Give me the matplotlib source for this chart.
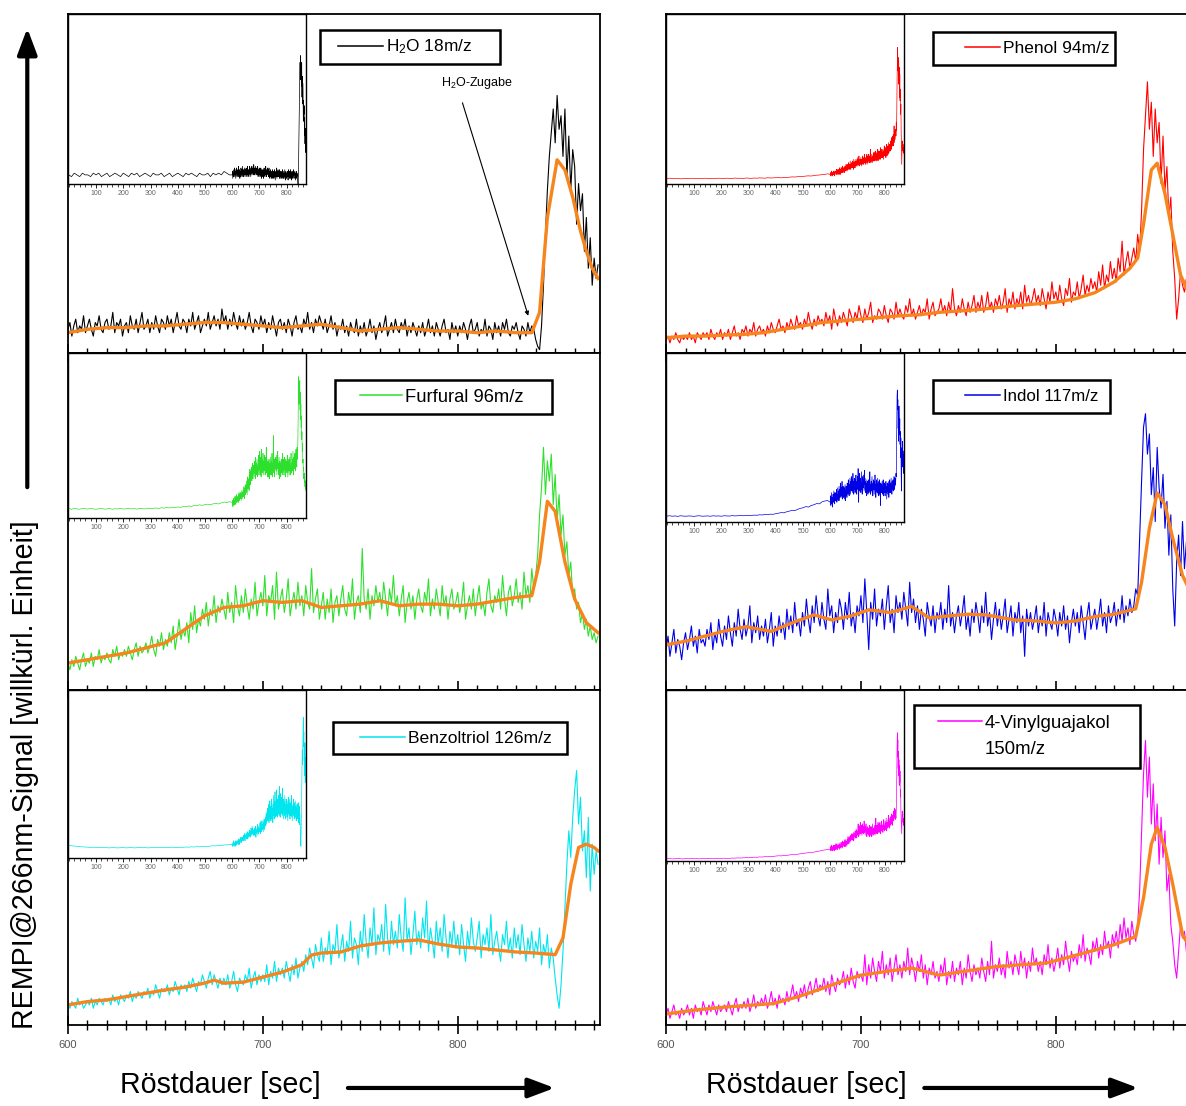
import numpy as np
import matplotlib
matplotlib.use('Agg')
import matplotlib.pyplot as plt
from matplotlib.lines import Line2D
from matplotlib.patches import FancyArrowPatch, Rectangle
from matplotlib.ticker import MultipleLocator

plt.rcParams['font.family'] = 'Liberation Sans'
plt.rcParams['mathtext.fontset'] = 'custom'
plt.rcParams['mathtext.rm'] = 'Liberation Sans'
plt.rcParams['mathtext.default'] = 'regular'

# Zeitachsen (sec)
t_main = np.arange(600, 873, 1)
t_early = np.arange(0, 600, 10)

# ---------------- H2O 18 m/z ----------------
h2o_raw = [7, 9, 5, 8, 10, 6, 8, 7, 11, 6,
           8, 10, 7, 5, 9, 8, 11, 7, 6, 9,
           10, 7, 8, 12, 6, 9, 8, 10, 5, 8,
           9, 6, 11, 8, 7, 10, 6, 9, 12, 7,
           8, 10, 6, 9, 7, 11, 8, 6, 10, 9,
           7, 11, 8, 10, 6, 9, 12, 8, 7, 10,
           9, 6, 10, 8, 12, 7, 9, 11, 6, 8,
           10, 8, 12, 7, 9, 11, 8, 10, 7, 13,
           9, 11, 7, 10, 8, 12, 9, 7, 11, 8,
           10, 7, 9, 12, 8, 6, 10, 9, 7, 11,
           8, 10, 6, 9, 7, 11, 8, 5, 9, 10,
           7, 9, 6, 10, 8, 5, 9, 11, 7, 8,
           6, 10, 8, 12, 7, 9, 6, 10, 8, 11,
           9, 7, 10, 6, 8, 11, 7, 9, 5, 8,
           7, 10, 6, 8, 5, 9, 7, 6, 10, 5,
           8, 6, 9, 5, 7, 10, 6, 8, 4, 7,
           9, 6, 8, 11, 5, 7, 9, 6, 10, 7,
           6, 9, 7, 10, 5, 8, 6, 9, 7, 5,
           8, 6, 9, 5, 7, 10, 6, 8, 5, 9,
           7, 5, 8, 10, 6, 7, 4, 9, 6, 8,
           5, 8, 6, 9, 7, 4, 8, 10, 6, 7,
           9, 5, 7, 6, 10, 5, 8, 7, 4, 9,
           6, 8, 5, 9, 7, 10, 6, 5, 8, 7,
           9, 6, 4, 8, 7, 5, 9, 6, 8, 7,
           4, 2, 1, 8, 20, 35, 48, 58, 65, 72,
           62, 76, 66, 70, 58, 72, 52, 64, 48, 60,
           55, 38, 50, 42, 47, 30, 40, 25, 34, 20,
           28, 22, 26]
h2o_smooth_t = [600, 610, 620, 630, 640, 650, 660, 670, 680, 690, 700, 710, 720, 730,
                740, 750, 760, 770, 780, 790, 800, 810, 820, 830, 838, 842, 846, 851,
                855, 859, 863, 866, 869, 872]
h2o_smooth = [6, 7, 7.5, 7.5, 8, 8, 8.5, 9, 9, 8.5, 8, 7.5, 8, 8.5, 7.5, 6.5, 7, 7.5,
              7, 6.5, 6.5, 6, 6.5, 6, 6, 12, 40, 57, 54, 46, 36, 30, 25, 22]
h2o_early = [7, 6, 8, 7, 6, 8, 7, 7, 6, 8, 7, 8, 6, 7, 8, 6, 7, 8, 7, 6,
             8, 7, 6, 8, 7, 8, 6, 7, 8, 7, 6, 8, 7, 7, 8, 6, 7, 8, 6, 7,
             8, 7, 6, 8, 7, 8, 7, 6, 8, 7, 7, 8, 6, 8, 7, 8, 7, 9, 8, 7]

# ---------------- Furfural 96 m/z ----------------
furf_raw = [8, 6, 9, 7, 10, 8, 6, 9, 11, 7,
            9, 8, 11, 7, 10, 9, 12, 8, 10, 9,
            11, 9, 8, 12, 10, 13, 9, 11, 10, 12,
            10, 13, 11, 9, 12, 14, 10, 13, 11, 12,
            14, 11, 13, 16, 12, 10, 15, 13, 17, 12,
            15, 13, 17, 14, 19, 12, 16, 21, 15, 18,
            16, 20, 14, 23, 18, 25, 17, 21, 19, 24,
            21, 26, 19, 24, 22, 28, 20, 25, 23, 27,
            24, 21, 29, 23, 26, 20, 31, 25, 22, 28,
            23, 30, 25, 21, 27, 24, 32, 22, 26, 29,
            25, 34, 22, 28, 26, 31, 21, 35, 24, 27,
            30, 23, 27, 33, 22, 26, 29, 24, 32, 25,
            28, 22, 31, 26, 24, 36, 23, 27, 30, 21,
            25, 29, 21, 27, 23, 30, 20, 26, 28, 22,
            27, 31, 24, 22, 29, 25, 33, 21, 26, 28,
            23, 42, 27, 24, 30, 21, 28, 25, 31, 26,
            29, 24, 32, 27, 22, 30, 26, 34, 25, 28,
            22, 27, 31, 20, 26, 29, 24, 28, 21, 27,
            30, 25, 23, 29, 26, 33, 22, 27, 24, 30,
            26, 22, 31, 25, 28, 21, 27, 30, 24, 26,
            29, 23, 26, 32, 21, 25, 28, 24, 30, 22,
            27, 31, 24, 26, 22, 29, 33, 25, 23, 28,
            26, 30, 24, 34, 27, 22, 29, 31, 25, 28,
            33, 26, 29, 24, 35, 28, 31, 26, 36, 30,
            34, 40, 52, 60, 72, 58, 68, 62, 70, 55,
            64, 50, 58, 46, 52, 40, 44, 34, 38, 28,
            30, 24, 26, 20, 23, 18, 21, 16, 19, 15,
            17, 14, 16]
furf_smooth_t = [600, 610, 620, 630, 640, 650, 660, 670, 680, 690, 700, 710, 720, 730,
                 740, 750, 760, 770, 780, 790, 800, 810, 820, 830, 838, 842, 846, 850,
                 855, 860, 866, 872]
furf_smooth = [8, 9, 10, 11, 12.5, 14, 18, 22, 24.5, 25, 26.5, 26, 26.5, 24.5, 25, 25.5,
               26.5, 25, 25.5, 25.5, 25, 25.5, 26.5, 27.5, 28, 38, 56, 53, 38, 27, 20, 17]
furf_early = [5, 4.5, 5, 4.7, 4.5, 5, 4.8, 4.6, 5, 4.7, 4.5, 4.8, 5, 4.6, 4.7, 4.9, 4.5, 4.8,
              4.7, 5, 4.6, 4.8, 5, 4.7, 4.9, 4.6, 5, 4.8, 4.7, 5.1,
              4.8, 5, 5.2, 4.9, 5.3, 5.1, 5.4, 5.2, 5.6, 5.4, 5.7, 5.5, 5.9, 5.8, 6.2, 6,
              6.4, 6.3, 6.8, 6.5, 6.9, 7.1, 6.8, 7.3, 7.6, 7.2, 7.8, 8.2, 7.9, 8.4]

# ---------------- Benzoltriol 126 m/z ----------------
benz_raw = [6, 5, 7, 6, 5, 8, 6, 7, 5, 6,
            7, 6, 8, 5, 7, 6, 8, 7, 6, 8,
            7, 8, 6, 9, 7, 8, 6, 9, 8, 7,
            9, 8, 10, 7, 9, 8, 10, 9, 8, 10,
            9, 11, 8, 10, 9, 12, 10, 8, 11, 10,
            10, 12, 9, 11, 10, 13, 11, 9, 12, 11,
            12, 10, 13, 11, 14, 12, 10, 13, 12, 15,
            13, 11, 14, 16, 12, 15, 13, 11, 14, 12,
            14, 12, 15, 11, 13, 16, 12, 10, 14, 13,
            12, 15, 13, 17, 11, 14, 16, 12, 15, 13,
            15, 13, 18, 12, 16, 14, 19, 13, 17, 15,
            17, 14, 19, 16, 13, 18, 15, 20, 14, 17,
            19, 16, 21, 18, 23, 20, 17, 24, 21, 19,
            26, 19, 23, 21, 28, 18, 24, 22, 30, 20,
            23, 27, 19, 25, 22, 31, 20, 26, 24, 18,
            28, 22, 33, 25, 20, 29, 24, 35, 21, 27,
            25, 30, 22, 36, 26, 21, 31, 24, 28, 23,
            33, 26, 22, 38, 25, 29, 21, 27, 34, 24,
            28, 23, 32, 26, 37, 22, 29, 25, 20, 31,
            24, 29, 22, 33, 26, 20, 28, 24, 31, 23,
            27, 21, 30, 24, 19, 28, 23, 32, 25, 22,
            26, 31, 20, 27, 24, 29, 22, 33, 21, 25,
            28, 23, 19, 27, 24, 31, 22, 26, 20, 29,
            23, 27, 21, 30, 24, 19, 26, 22, 28, 20,
            25, 22, 29, 18, 24, 21, 27, 17, 23, 20,
            14, 9, 5, 12, 22, 35, 48, 58, 50, 62,
            70, 76, 60, 68, 52, 58, 44, 62, 40, 54,
            45, 52, 48]
benz_smooth_t = [600, 610, 620, 630, 640, 650, 660, 670, 675, 680, 690, 700, 710, 720,
                 725, 730, 740, 750, 760, 770, 780, 790, 800, 810, 820, 830, 840, 850,
                 854, 858, 862, 866, 870, 872]
benz_smooth = [6, 7, 7.5, 8.5, 9.5, 10.5, 11.3, 12.5, 13.4, 12.5, 12.8, 14.3, 15.8, 18,
               20.9, 21.5, 21.8, 23.6, 24.5, 25, 25.4, 24.2, 23.3, 23, 22.4, 21.8, 21.5,
               21, 26, 42, 53, 54, 53, 52]
benz_early = [5.5, 5.3, 5.1, 5, 4.8, 4.7, 4.6, 4.5, 4.4, 4.5, 4.3, 4.4, 4.2, 4.3, 4.2, 4.1,
              4.3, 4.2, 4.1, 4.2, 4.3, 4.1, 4.2, 4.3, 4.1, 4.2, 4.4, 4.2, 4.3, 4.1,
              4.2, 4.3, 4.2, 4.4, 4.3, 4.2, 4.4, 4.3, 4.5, 4.4, 4.3, 4.5, 4.4, 4.6, 4.5,
              4.7, 4.6, 4.8, 4.7, 4.9, 5, 4.9, 5.1, 5.3, 5.2, 5.5, 5.4, 5.7, 5.8, 5.9]

# ---------------- Phenol 94 m/z ----------------
phen_raw = [4, 5, 3, 5, 4, 6, 4, 3, 5, 4,
            5, 4, 6, 4, 5, 3, 6, 5, 4, 6,
            5, 6, 4, 7, 5, 4, 6, 5, 7, 4,
            6, 5, 7, 4, 6, 8, 5, 6, 4, 7,
            6, 8, 5, 7, 6, 9, 5, 7, 8, 6,
            7, 5, 8, 6, 9, 7, 6, 8, 10, 7,
            8, 6, 9, 7, 10, 8, 7, 11, 8, 9,
            7, 10, 8, 12, 9, 7, 10, 8, 11, 9,
            10, 8, 12, 9, 11, 7, 13, 10, 8, 11,
            9, 12, 10, 8, 13, 11, 9, 12, 10, 14,
            11, 9, 13, 10, 12, 15, 9, 11, 10, 13,
            12, 10, 14, 11, 9, 13, 12, 10, 15, 11,
            13, 11, 10, 14, 12, 16, 11, 13, 10, 12,
            14, 11, 13, 12, 16, 10, 13, 15, 11, 12,
            13, 16, 12, 14, 11, 15, 12, 19, 13, 11,
            14, 12, 16, 13, 11, 15, 12, 14, 17, 12,
            15, 13, 17, 12, 14, 18, 13, 15, 12, 16,
            14, 17, 13, 15, 19, 12, 16, 14, 18, 13,
            16, 14, 18, 13, 20, 15, 17, 14, 16, 19,
            15, 17, 14, 19, 16, 13, 18, 15, 21, 16,
            18, 15, 20, 16, 14, 19, 17, 22, 15, 18,
            17, 21, 16, 19, 23, 17, 20, 18, 22, 19,
            21, 18, 24, 20, 26, 19, 23, 21, 27, 22,
            25, 21, 28, 24, 33, 23, 27, 30, 25, 28,
            31, 27, 35, 30, 42, 60, 70, 80, 66, 74,
            58, 72, 62, 68, 50, 64, 48, 55, 40, 46,
            30, 22, 10, 16, 24, 20, 18, 22, 17, 20,
            19, 16, 18]
phen_smooth_t = [600, 610, 620, 630, 640, 650, 660, 670, 680, 690, 700, 710, 720, 730,
                 740, 750, 760, 770, 780, 790, 800, 810, 820, 830, 838, 842, 845, 849,
                 852, 856, 860, 864, 868, 872]
phen_smooth = [4.5, 5, 5, 5.3, 5.5, 6, 7, 8, 9, 9.5, 10, 10.5, 11, 11.3, 12, 12.4, 12.8,
               13.4, 14, 14.5, 15, 16, 17.8, 21, 25, 28, 38, 54, 56, 47, 35, 23, 18, 16]
phen_early = [1.5, 1.7, 1.4, 1.6, 1.5, 1.3, 1.6, 1.5, 1.4, 1.7, 1.5, 1.6, 1.4, 1.5, 1.7,
              1.5, 1.4, 1.6, 1.5, 1.7, 1.6, 1.5, 1.7, 1.6, 1.5, 1.8, 1.6, 1.7, 1.5, 1.8,
              1.7, 1.6, 1.8, 1.7, 1.9, 1.8, 1.7, 2, 1.8, 1.9, 2, 2.1, 1.9, 2.2, 2.1, 2.3,
              2.5, 2.4, 2.6, 2.8, 2.7, 3, 3.1, 3, 3.3, 3.5, 3.6, 3.9, 4, 4.3]

# ---------------- Indol 117 m/z ----------------
indol_raw = [12, 16, 10, 14, 18, 11, 15, 13, 9, 14,
             17, 12, 15, 19, 13, 16, 11, 18, 14, 15,
             13, 18, 15, 20, 12, 17, 14, 21, 16, 13,
             19, 15, 22, 17, 13, 20, 16, 24, 18, 15,
             21, 16, 19, 25, 14, 20, 17, 22, 15, 19,
             16, 21, 14, 18, 23, 13, 19, 16, 22, 17,
             20, 15, 24, 18, 22, 17, 26, 19, 21, 16,
             23, 19, 27, 21, 17, 25, 20, 28, 22, 19,
             26, 21, 18, 30, 22, 25, 17, 23, 20, 27,
             24, 18, 26, 21, 29, 19, 23, 17, 25, 22,
             28, 20, 33, 23, 12, 26, 21, 30, 19, 24,
             22, 27, 18, 25, 31, 20, 24, 17, 28, 23,
             26, 21, 29, 24, 19, 32, 23, 27, 20, 25,
             18, 24, 21, 16, 26, 22, 19, 25, 17, 23,
             21, 26, 18, 24, 20, 31, 19, 23, 17, 22,
             25, 19, 23, 28, 18, 22, 16, 24, 20, 26,
             22, 17, 25, 20, 29, 19, 23, 15, 21, 26,
             19, 24, 18, 22, 27, 17, 21, 25, 16, 23,
             20, 26, 17, 22, 10, 24, 19, 23, 18, 21,
             25, 17, 22, 19, 26, 16, 23, 20, 18, 24,
             21, 16, 23, 19, 25, 18, 22, 14, 20, 24,
             19, 23, 17, 25, 20, 15, 22, 26, 18, 21,
             24, 18, 22, 27, 19, 23, 17, 25, 20, 22,
             26, 19, 24, 21, 28, 20, 25, 22, 27, 23,
             25, 30, 28, 45, 62, 78, 82, 70, 76, 58,
             66, 50, 72, 60, 54, 64, 48, 56, 40, 52,
             30, 19, 38, 46, 34, 50, 36, 44, 30, 40,
             35, 42, 38]
indol_smooth_t = [600, 610, 620, 630, 641, 654, 665, 676, 685, 695, 704, 715, 726, 735,
                  745, 755, 764, 779, 790, 800, 810, 821, 830, 841, 844, 848, 852, 856,
                  860, 865, 870]
indol_smooth = [13.4, 14.5, 16, 17.5, 18.8, 17.4, 20, 22.3, 20.8, 22, 23.8, 23, 24.8, 21.4,
                22, 22.5, 22.3, 20.8, 20.5, 19.9, 20.5, 21.9, 22.5, 24.1, 32, 48, 58.5, 55,
                45, 34, 28]
indol_early = [3.4, 3.6, 3.3, 3.5, 3.2, 3.6, 3.4, 3.3, 3.5, 3.4, 3.2, 3.5, 3.6, 3.3, 3.4,
               3.5, 3.3, 3.6, 3.4, 3.5, 3.3, 3.6, 3.5, 3.4, 3.7, 3.5, 3.6, 3.8, 3.6, 3.7,
               3.9, 3.8, 4, 3.9, 4.2, 4.1, 4.4, 4.3, 4.6, 4.5, 4.9, 5.2, 5.6, 5.4, 6.1, 6.5,
               7, 6.8, 7.6, 8.2, 8.6, 9.3, 9, 10, 10.5, 11.2, 11, 12.3, 12.8, 13.1]

# ---------------- 4-Vinylguajakol 150 m/z ----------------
vinyl_raw = [3, 5, 2, 4, 6, 3, 4, 2, 5, 3,
             4, 6, 3, 5, 2, 6, 4, 5, 3, 7,
             5, 3, 6, 4, 7, 5, 3, 6, 4, 5,
             6, 4, 7, 5, 3, 6, 8, 4, 6, 5,
             7, 5, 8, 4, 6, 9, 5, 7, 6, 8,
             6, 9, 5, 7, 10, 6, 8, 5, 9, 7,
             8, 6, 10, 7, 9, 12, 8, 10, 7, 11,
             9, 12, 8, 11, 13, 9, 11, 14, 10, 12,
             11, 14, 10, 13, 9, 15, 12, 10, 14, 12,
             13, 16, 11, 15, 12, 17, 13, 11, 16, 14,
             15, 13, 21, 12, 18, 14, 20, 16, 13, 19,
             16, 22, 14, 18, 15, 20, 13, 17, 21, 15,
             18, 14, 19, 16, 23, 15, 20, 17, 13, 19,
             16, 21, 14, 18, 12, 17, 15, 19, 14, 16,
             13, 18, 15, 20, 12, 16, 14, 19, 13, 17,
             15, 19, 12, 17, 14, 21, 16, 13, 18, 15,
             17, 14, 20, 16, 13, 19, 15, 25, 14, 18,
             16, 20, 15, 18, 14, 22, 17, 19, 15, 21,
             18, 15, 22, 17, 20, 14, 19, 16, 23, 18,
             20, 16, 19, 15, 21, 18, 24, 17, 20, 16,
             19, 23, 17, 21, 18, 25, 20, 16, 22, 19,
             21, 18, 24, 20, 27, 19, 23, 21, 18, 25,
             22, 26, 20, 24, 21, 28, 23, 25, 20, 27,
             24, 28, 23, 30, 25, 32, 26, 29, 24, 31,
             27, 25, 30, 40, 58, 75, 85, 68, 80, 60,
             72, 55, 66, 48, 62, 50, 58, 40, 45, 30,
             25, 18, 14, 22, 30, 26, 28, 22, 25, 20,
             24, 21, 23]
vinyl_smooth_t = [600, 615, 631, 645, 655, 668, 680, 690, 700, 713, 726, 733, 740, 755,
                  769, 782, 795, 805, 817, 830, 841, 845, 849, 852, 856, 860, 865, 870]
vinyl_smooth = [3.3, 4.5, 5.4, 6, 6.4, 8.5, 10.9, 13, 14.9, 16, 17, 16, 14.9, 16.2, 17.4,
                18, 18.5, 20, 21.9, 24, 26.4, 38, 54, 59, 53, 42, 27, 22]
vinyl_early = [-3.5, -3.4, -3.6, -3.5, -3.3, -3.5, -3.6, -3.4, -3.5, -3.3, -3.5, -3.4,
               -3.6, -3.3, -3.5, -3.4, -3.3, -3.5, -3.2, -3.4, -3.3, -3.1, -3.3, -3.2,
               -3, -3.1, -2.9, -3, -2.8, -2.7, -2.8, -2.6, -2.4, -2.5, -2.2, -2.3, -2,
               -2.1, -1.8, -1.9, -1.6, -1.4, -1.5, -1.1, -1.2, -0.8, -0.6, -0.7, -0.3, 0,
               0.2, 0.5, 0.8, 0.7, 1.2, 1.6, 1.9, 2.3, 2.7, 3]

ORANGE = '#f7851e'
W, H = 1186, 1106

fig = plt.figure(figsize=(W / 100, H / 100), dpi=100)

col_left = [0.0573, 0.5616]
col_w = 0.4486
rows = [(0.6808, 0.3065), (0.3761, 0.3047), (0.0732, 0.3029)]

# Legendenrahmen in Pixeln: (links, oben, rechts, unten), Linie (von, bis), Schriftgroesse
panels = [
    (0, 0, h2o_raw, h2o_smooth_t, h2o_smooth, h2o_early, 'black',
     ['H$_2$O 18m/z'], (2, 100), 0.50, (320, 30, 500, 64), (338, 383), 12.4),
    (0, 1, furf_raw, furf_smooth_t, furf_smooth, furf_early, '#2ee02e',
     ['Furfural 96m/z'], (0, 84), 0.51, (335, 380, 552, 414), (360, 402), 13.2),
    (0, 2, benz_raw, benz_smooth_t, benz_smooth, benz_early, '#00e5ee',
     ['Benzoltriol 126m/z'], (-1.2, 91), 0.50, (333, 722, 567, 754), (360, 405), 12.6),
    (1, 0, phen_raw, phen_smooth_t, phen_smooth, phen_early, '#ff0000',
     ['Phenol 94m/z'], (-1.5, 100), 0.50, (933, 32, 1115, 65), (965, 1000), 12.5),
    (1, 1, indol_raw, indol_smooth_t, indol_smooth, indol_early, '#0000e6',
     ['Indol 117m/z'], (0, 105), 0.50, (933, 380, 1110, 413), (965, 1000), 12.2),
    (1, 2, vinyl_raw, vinyl_smooth_t, vinyl_smooth, vinyl_early, '#ff00ff',
     ['4-Vinylguajakol', '150m/z'], (-5, 115), 0.49, (914, 705, 1140, 768), (938, 982), 13.4),
]

axes = {}
for col, row, raw, st, sy, early, color, labels, iylim, ibot, box, hline, fs in panels:
    bottom, height = rows[row]
    ax = fig.add_axes([col_left[col], bottom, col_w, height])
    axes[(col, row)] = ax
    ax.plot(t_main, raw, color=color, lw=0.8)
    ax.plot(st, sy, color=ORANGE, lw=2.4)
    ax.set_xlim(600, 873)
    ax.set_ylim(0, 100)
    ax.set_yticks([])
    ax.xaxis.set_major_locator(MultipleLocator(100))
    ax.xaxis.set_minor_locator(MultipleLocator(10))
    ax.tick_params(axis='x', which='major', direction='inout', length=13, width=1.2,
                   labelsize=8, labelcolor='#555555', pad=4)
    ax.tick_params(axis='x', which='minor', direction='inout', length=7, width=1)
    if row != 2:
        ax.tick_params(axis='x', labelbottom=False)
    for s in ax.spines.values():
        s.set_linewidth(1.3)

    # kleines Gesamtbild
    ins = ax.inset_axes([0, ibot, 0.447, 1 - ibot])
    ins.plot(np.concatenate([t_early, t_main]), np.concatenate([early, raw]),
             color=color, lw=0.5)
    ins.set_xlim(-3, 870)
    ins.set_ylim(*iylim)
    ins.set_yticks([])
    ins.set_xticks(range(100, 900, 100))
    ins.xaxis.set_minor_locator(MultipleLocator(20))
    ins.tick_params(axis='x', which='major', direction='out', length=3, width=0.6,
                    labelsize=5, labelcolor='#666666', pad=1.5)
    ins.tick_params(axis='x', which='minor', direction='out', length=2, width=0.5)
    for s in ins.spines.values():
        s.set_linewidth(1.0)

    # Legende: Rahmen von Hand, Eintraege ohne Rahmen
    x0, y0, x1, y1 = box
    fig.add_artist(Rectangle((x0 / W, 1 - y1 / H), (x1 - x0) / W, (y1 - y0) / H,
                             transform=fig.transFigure, fill=True, facecolor='white',
                             edgecolor='black', lw=1.8, zorder=5))
    handles = [Line2D([], [], color=color, lw=1.1)]
    if len(labels) > 1:
        handles.append(Line2D([], [], color='none'))
    fs_px = fs * 100 / 72
    leg = fig.legend(handles, labels, loc='center left',
                     bbox_to_anchor=(hline[0] / W, 1 - (y0 + y1) / 2 / H),
                     bbox_transform=fig.transFigure, frameon=False, fontsize=fs,
                     handlelength=(hline[1] - hline[0]) / fs_px,
                     handletextpad=3 / fs_px, borderaxespad=0,
                     borderpad=0, labelspacing=0.5)
    leg.set_zorder(6)

# H2O-Zugabe Markierung
ax0 = axes[(0, 0)]
ax0.text(810, 79.6, 'H$_2$O-Zugabe', ha='center', va='center', fontsize=9)
ax0.annotate('', xy=(836.6, 10.2), xytext=(802, 74.6),
             arrowprops=dict(arrowstyle='-|>', lw=0.8, color='black', mutation_scale=6))

# Achsenbeschriftungen mit Pfeilen
fig.text(0.021, 0.2993, 'REMPI@266nm-Signal [willkürl. Einheit]', rotation=90,
         ha='center', va='center', fontsize=20.6)
fig.text(0.186, 0.019, 'Röstdauer [sec]', ha='center', va='center', fontsize=20.6)
fig.text(0.680, 0.019, 'Röstdauer [sec]', ha='center', va='center', fontsize=20.6)

arrow_kw = dict(transform=fig.transFigure, arrowstyle='-|>,head_length=0.8,head_width=0.3',
                mutation_scale=20, lw=3, color='black')
fig.add_artist(FancyArrowPatch((0.023, 0.557), (0.023, 0.977), **arrow_kw))
fig.add_artist(FancyArrowPatch((0.291, 0.0163), (0.470, 0.0163), **arrow_kw))
fig.add_artist(FancyArrowPatch((0.777, 0.0163), (0.962, 0.0163), **arrow_kw))

fig.savefig('out.png', dpi=100)
